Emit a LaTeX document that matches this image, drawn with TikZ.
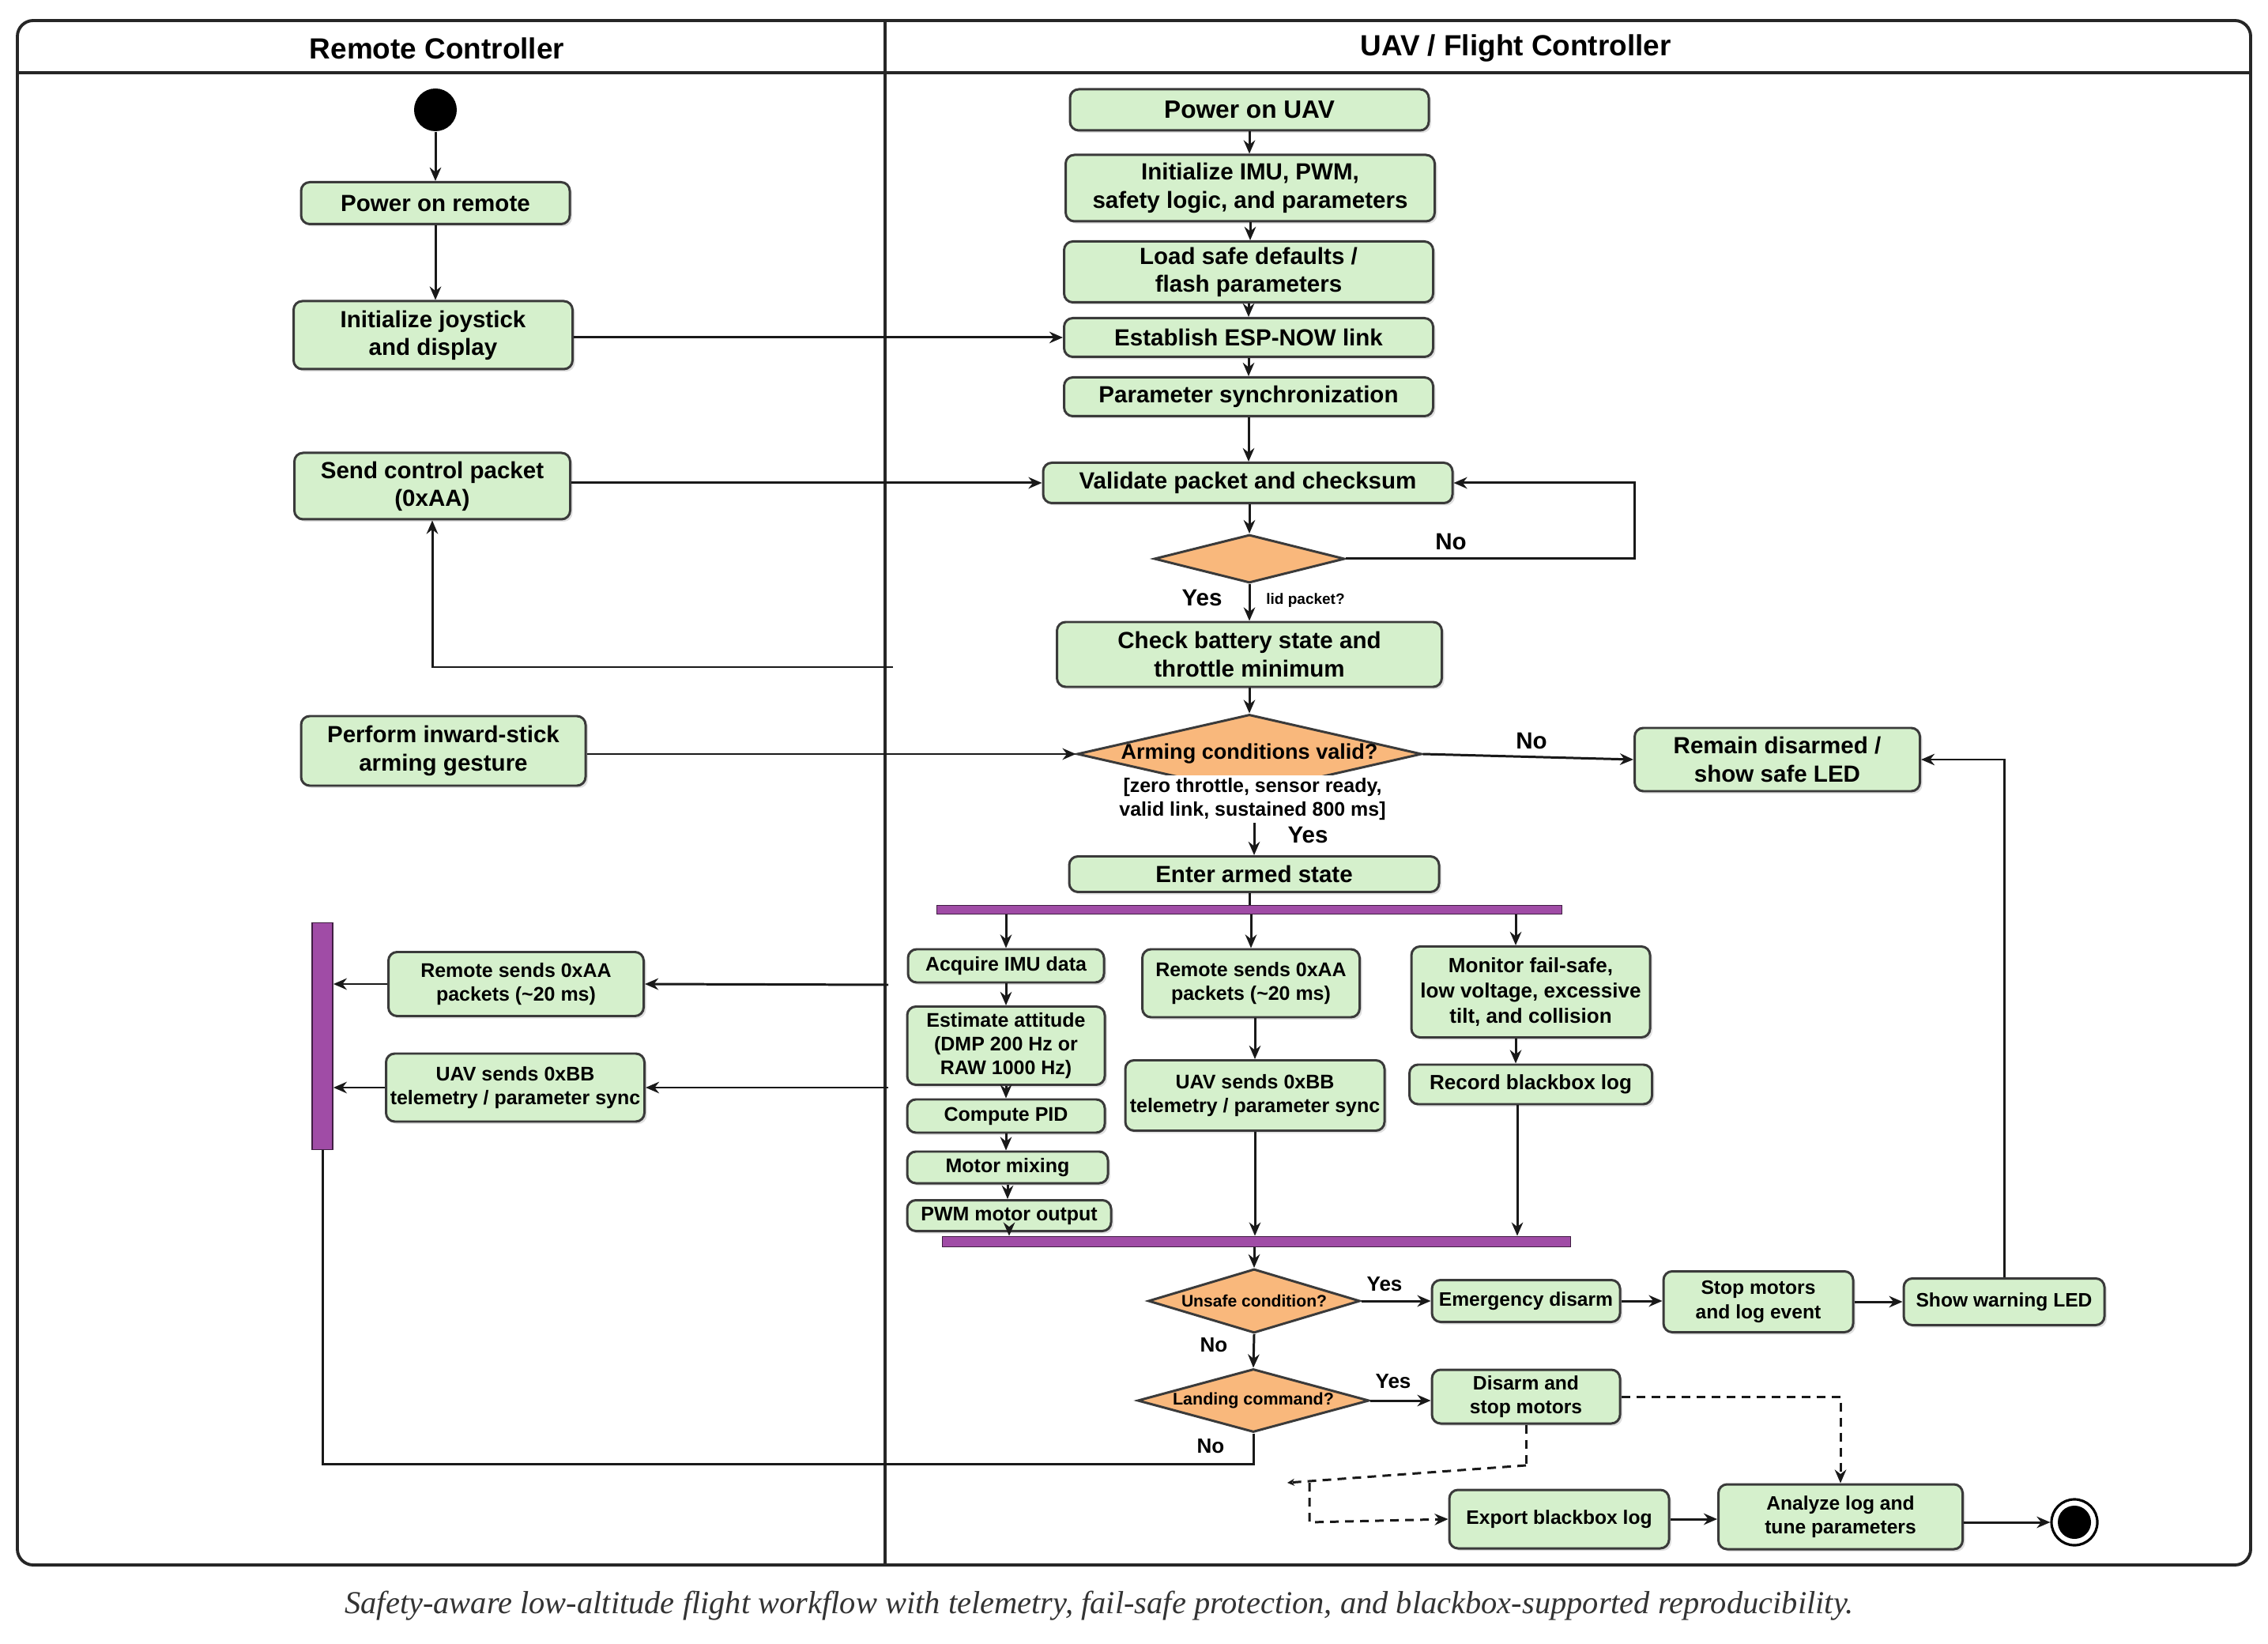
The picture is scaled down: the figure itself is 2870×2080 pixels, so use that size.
\documentclass[tikz,border=0pt]{standalone}
\usepackage{fontspec}
\setmainfont{Liberation Sans}
\newfontfamily\capfont{Liberation Serif}
\usetikzlibrary{shapes.geometric,arrows.meta,calc,shadows}
\definecolor{actfill}{HTML}{D5F0CC}
\definecolor{actline}{HTML}{3A3A3A}
\definecolor{decfill}{HTML}{F9B87C}
\definecolor{barfill}{HTML}{A04CA6}
\begin{document}
\begin{tikzpicture}[x=0.01cm,y=-0.01cm,
  sz/.style 2 args={minimum width=#1*0.01cm, minimum height=#2*0.01cm},
  act/.style={draw=actline, line width=0.85pt, fill=actfill, rounded corners=1.1mm, align=center,
     inner sep=1pt, text=black, drop shadow={shadow xshift=0.3mm, shadow yshift=-0.3mm, opacity=0.25}},
  fmain/.style={font=\bfseries\fontsize{8.4}{10}\selectfont},
  fsmall/.style={font=\bfseries\fontsize{7.1}{8.6}\selectfont},
  fbot/.style={font=\bfseries\fontsize{7}{8.6}\selectfont},
  dec/.style={diamond, draw=actline, line width=0.85pt, fill=decfill, inner sep=0pt, align=center},
  bar/.style={draw=black!60!barfill, line width=0.5pt, fill=barfill, inner sep=0pt},
  arr/.style={draw=black!90, line width=0.85pt, -{Stealth[length=1.7mm,width=1.45mm]}},
  ln/.style={draw=black!90, line width=0.85pt},
  dsh/.style={arr, dash pattern=on 1.1mm off 0.8mm},
  lbl/.style={font=\bfseries\fontsize{8.4}{10}\selectfont, inner sep=1pt},
  slbl/.style={font=\bfseries\fontsize{7.4}{9}\selectfont, inner sep=1pt},
  hdr/.style={font=\bfseries\fontsize{10.5}{12}\selectfont}
]
\fill[white] (0,0) rectangle (2870,2080);
\useasboundingbox (0,0) rectangle (2870,2080);

% swimlane frame
\draw[line width=1.1pt, draw=black!85, rounded corners=2mm] (22,26) rectangle (2848,1980);
\draw[line width=0.9pt, draw=black!85] (22,92) -- (2848,92);
\draw[line width=0.9pt, draw=black!85] (1120,26) -- (1120,1980);
\node[hdr] (hdrL) at (553,61) {Remote Controller};
\node[hdr] (hdrR) at (1918,61) {UAV / Flight Controller};

% ---------- Remote lane ----------
\node[circle, fill=black, minimum size=0.54cm, inner sep=0pt] (start) at (551,139) {};
\node[act, fmain, sz={340}{53}] (pwrR) at (551,257) {Power on remote};
\node[act, fmain, sz={353}{86}] (initJ) at (548,424) {Initialize joystick\\and display};
\node[act, fmain, sz={349}{84}] (sendP) at (547,615) {Send control packet\\(0xAA)};
\node[act, fmain, sz={360}{88}] (gest) at (561,950) {Perform inward-stick\\arming gesture};
\node[bar, sz={26}{287}] (lbar) at (408,1311) {};
\node[act, fsmall, sz={323}{81}] (rsL) at (653,1245) {Remote sends 0xAA\\packets (\textasciitilde20 ms)};
\node[act, fsmall, sz={327}{86}] (usL) at (652,1376) {UAV sends 0xBB\\telemetry / parameter sync};

% ---------- UAV lane ----------
\node[act, font=\bfseries\fontsize{9}{11}\selectfont, sz={454}{52}] (pwrU) at (1581,139) {Power on UAV};
\node[act, fmain, sz={467}{84}] (initI) at (1582,238) {Initialize IMU, PWM,\\safety logic, and parameters};
\node[act, fmain, sz={467}{77}] (load) at (1580,344) {Load safe defaults /\\flash parameters};
\node[act, fmain, sz={467}{49}] (est) at (1580,427) {Establish ESP-NOW link};
\node[act, fmain, sz={467}{49}] (psync) at (1580,502) {Parameter synchronization};
\node[act, fmain, sz={518}{51}] (val) at (1579,611) {Validate packet and checksum};
\node[dec, sz={241}{61}] (vdec) at (1581,707) {};
\node[act, fmain, sz={487}{82}] (check) at (1581,828) {Check battery state and\\throttle minimum};
\node[dec, sz={436}{100}, aspect=4.36, font=\bfseries\fontsize{7.7}{9}\selectfont] (arm) at (1581,954) {Arming conditions valid?};
\node[font=\bfseries\fontsize{7.1}{8.3}\selectfont, align=center, inner sep=1pt, fill=white] (guard) at (1585,1011) {[zero throttle, sensor ready,\\valid link, sustained 800 ms]};
\node[act, fmain, sz={361}{80}] (remain) at (2249,961) {Remain disarmed /\\show safe LED};
\node[act, fmain, sz={468}{45}] (enter) at (1587,1106) {Enter armed state};
\node[bar, sz={791}{11}] (fork) at (1581,1151) {};

\node[act, fsmall, sz={248}{42}] (acq) at (1273,1222) {Acquire IMU data};
\node[act, fsmall, sz={250}{99}] (estA) at (1273,1323) {Estimate attitude\\(DMP 200 Hz or\\RAW 1000 Hz)};
\node[act, fsmall, sz={250}{42}] (pid) at (1273,1412) {Compute PID};
\node[act, fsmall, sz={254}{40}] (mix) at (1275,1477) {Motor mixing};
\node[act, fsmall, sz={258}{39}] (pwm) at (1277,1538) {PWM motor output};
\node[act, fsmall, sz={275}{86}] (rsC) at (1583,1244) {Remote sends 0xAA\\packets (\textasciitilde20 ms)};
\node[act, fsmall, sz={328}{89}] (usC) at (1588,1386) {UAV sends 0xBB\\telemetry / parameter sync};
\node[act, font=\bfseries\fontsize{7.4}{9.2}\selectfont, sz={302}{115}] (mon) at (1937,1255) {Monitor fail-safe,\\low voltage, excessive\\tilt, and collision};
\node[act, font=\bfseries\fontsize{7.4}{9}\selectfont, sz={307}{50}] (rec) at (1937,1372) {Record blackbox log};
\node[bar, sz={795}{13}] (join) at (1590,1571) {};

\node[dec, sz={268}{81}, aspect=3.3, font=\bfseries\fontsize{6}{7}\selectfont] (unsafe) at (1587,1646) {Unsafe condition?};
\node[act, fbot, sz={238}{53}] (emerg) at (1931,1646) {Emergency disarm};
\node[act, fbot, sz={240}{77}] (stop) at (2225,1647) {Stop motors\\and log event};
\node[act, fbot, sz={254}{59}] (warn) at (2536,1647) {Show warning LED};
\node[dec, sz={293}{80}, aspect=3.66, font=\bfseries\fontsize{6.1}{7}\selectfont] (landing) at (1586,1772) {Landing command?};
\node[act, fbot, sz={238}{68}] (disarm) at (1931,1767) {Disarm and\\stop motors};
\node[act, fbot, sz={278}{74}] (export) at (1973,1922) {Export blackbox log};
\node[act, fbot, sz={309}{82}] (analyze) at (2329,1919) {Analyze log and\\tune parameters};
\node[circle, draw=black, line width=0.9pt, fill=white, minimum size=0.58cm, inner sep=0pt] (final) at (2625,1926) {};
\node[circle, fill=black, minimum size=0.42cm, inner sep=0pt] (finalin) at (final) {};

% ---------- helper coordinates ----------
\coordinate (vloop) at (2068,707);
\coordinate (cb) at (1130,844);
\coordinate (ra) at (1124,1246);
\coordinate (ub) at (1124,1376);
\coordinate (nl) at (1586,1852);
\coordinate (d1) at (1931,1854);
\coordinate (d2) at (1629,1876);
\coordinate (d3) at (1657,1876);
\coordinate (d4) at (1657,1926);

% ---------- connectors: remote lane ----------
\draw[arr] (start.south) -- (pwrR.north);
\draw[arr] (pwrR.south) -- (pwrR.south |- initJ.north);
\draw[arr] (initJ.east |- est.west) -- (est.west);
\draw[arr] (sendP.east |- val.west) -- (val.west);
\draw[arr] (cb) -| (sendP.south);
\draw[arr] (gest.east |- arm.west) -- (arm.west);
\draw[arr] (ra) -- (rsL.east);
\draw[arr] (rsL.west) -- (rsL.west -| lbar.east);
\draw[arr] (ub) -- (usL.east);
\draw[arr] (usL.west) -- (usL.west -| lbar.east);

% ---------- connectors: UAV lane ----------
\draw[arr] (pwrU.south) -- (pwrU.south |- initI.north);
\draw[arr] (initI.south) -- (initI.south |- load.north);
\draw[arr] (load.south) -- (load.south |- est.north);
\draw[arr] (est.south) -- (est.south |- psync.north);
\draw[arr] (psync.south) -- (psync.south |- val.north);
\draw[arr] (val.south -| vdec.north) -- (vdec.north);
\draw[arr] (vdec.east) -- (vloop) |- (val.east);
\node[lbl] (noV) at (1836,685) {No};
\draw[arr] (vdec.south) -- (vdec.south |- check.north);
\node[lbl] (yesV) at (1521,756) {Yes};
\node[font=\bfseries\fontsize{5.4}{6}\selectfont, inner sep=0pt] (vlab) at (1652,760) {lid packet?};
\draw[arr] (check.south -| arm.north) -- (arm.north);
\draw[arr] (arm.east) -- (remain.west);
\node[lbl] (noA) at (1938,937) {No};
\draw[arr] (guard.south -| enter.north) -- (enter.north);
\node[lbl] (yesA) at (1655,1056) {Yes};
\draw[ln] (enter.south -| fork.north) -- (fork.north);

\draw[arr] (fork.south -| acq.north) -- (acq.north);
\draw[arr] (fork.south -| rsC.north) -- (rsC.north);
\draw[arr] ($(fork.south -| mon.north)+(-19,0)$) -- ($(mon.north)+(-19,0)$);
\draw[arr] (acq.south) -- (acq.south |- estA.north);
\draw[arr] (estA.south) -- (estA.south |- pid.north);
\draw[arr] (pid.south) -- (pid.south |- mix.north);
\draw[arr] (mix.south) -- (mix.south |- pwm.north);
\draw[arr] (pwm.south) -- (pwm.south |- join.north);
\draw[arr] (rsC.south -| usC.north) -- (usC.north);
\draw[arr] (usC.south) -- (usC.south |- join.north);
\draw[arr] ($(mon.south)+(-19,0)$) -- ($(rec.north)+(-19,0)$);
\draw[arr] ($(rec.south)+(-17,0)$) -- ($(rec.south |- join.north)+(-17,0)$);
\draw[arr] (join.south -| unsafe.north) -- (unsafe.north);

\draw[arr] (unsafe.east) -- (emerg.west);
\node[slbl] (yesU) at (1752,1625) {Yes};
\draw[arr] (emerg.east) -- (emerg.east -| stop.west);
\draw[arr] (stop.east |- warn.west) -- (warn.west);
\draw[arr] (warn.north) |- (remain.east);
\draw[arr] (unsafe.south) -- (landing.north);
\node[slbl] (noU) at (1536,1702) {No};
\draw[arr] (landing.east) -- (landing.east -| disarm.west);
\node[slbl] (yesL) at (1763,1748) {Yes};
\draw[ln] (landing.south) -- (nl) -| (lbar.south);
\node[slbl] (noL) at (1532,1830) {No};

\draw[dsh] (disarm.east) -| (analyze.north);
\draw[ln, dash pattern=on 1.1mm off 0.8mm] (disarm.south) -- (d1);
\draw[dsh, -{Stealth[length=0.9mm,width=0.9mm]}] (d1) -- (d2);
\draw[dsh] (d3) -- (d4) -- (export.west);
\draw[arr] (export.east) -- (export.east -| analyze.west);
\draw[arr] (analyze.east |- final.west) -- (final.west);

% caption
\node[font=\capfont\itshape\fontsize{11.5}{13}\selectfont, text=black!80] (cap) at (1391,2032)
 {Safety-aware low-altitude flight workflow with telemetry, fail-safe protection, and blackbox-supported reproducibility.};
\end{tikzpicture}
\end{document}
